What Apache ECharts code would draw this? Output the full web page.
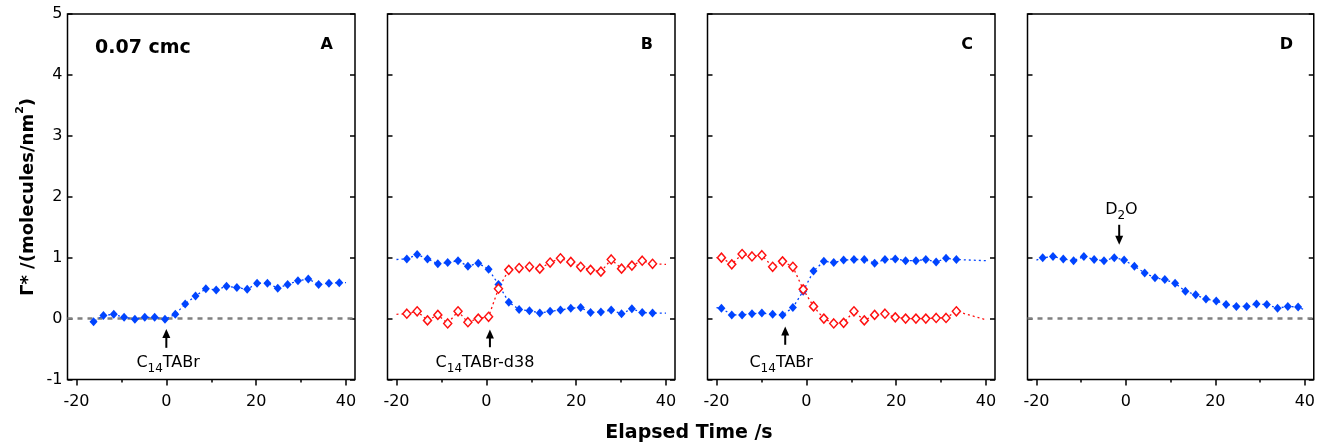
<!DOCTYPE html>
<html><head><meta charset="utf-8">
<script src="https://cdn.jsdelivr.net/npm/echarts@6/dist/echarts.min.js"></script>
<style>html,body{margin:0;padding:0;background:#fff}#c{width:1318px;height:444px}</style>
</head><body><div id="c"></div>
<script>
// ---------- data ----------
const xTickLabels = [-20, 0, 20, 40];
const xMinorTicks = [-10, 10, 30];
const yTicks = [-1, 0, 1, 2, 3, 4, 5];
const panelLetters = ['A', 'B', 'C', 'D'];

const xA = [-16.2,-14.0,-11.7,-9.4,-7.0,-4.8,-2.6,-0.3,2.0,4.2,6.5,8.8,11.1,13.4,15.7,18.0,20.2,22.5,24.8,27.0,29.3,31.6,33.9,36.2,38.5];
const yA = [-0.05,0.05,0.07,0.02,-0.01,0.02,0.02,-0.01,0.07,0.24,0.37,0.49,0.47,0.53,0.51,0.48,0.58,0.58,0.50,0.56,0.62,0.65,0.56,0.58,0.59];
const endsA = [[-17, -0.05], [40, 0.59]];

const xB = [-17.7,-15.4,-13.1,-10.8,-8.6,-6.3,-4.1,-1.8,0.5,2.7,5.0,7.3,9.6,11.9,14.2,16.5,18.8,21.0,23.2,25.5,27.8,30.1,32.4,34.7,37.0];
const yBblue = [0.98,1.05,0.98,0.90,0.92,0.95,0.86,0.91,0.81,0.56,0.27,0.15,0.13,0.09,0.12,0.14,0.17,0.18,0.10,0.11,0.14,0.08,0.16,0.10,0.09];
const yBred = [0.08,0.12,-0.03,0.06,-0.08,0.12,-0.06,0.00,0.03,0.49,0.80,0.83,0.85,0.82,0.92,0.99,0.93,0.85,0.80,0.77,0.97,0.82,0.87,0.95,0.90];
const endsBblue = [[-20, 0.97], [40, 0.09]];
const endsBred = [[-20, 0.07], [40, 0.89]];

const xC = [-18.9,-16.6,-14.3,-12.1,-9.9,-7.5,-5.3,-3.0,-0.7,1.6,3.9,6.1,8.3,10.6,12.9,15.2,17.5,19.8,22.1,24.4,26.6,28.9,31.1,33.4];
const yCred = [1.00,0.89,1.06,1.02,1.04,0.85,0.94,0.85,0.48,0.20,0.00,-0.08,-0.07,0.12,-0.03,0.06,0.08,0.02,0.00,0.00,0.00,0.01,0.01,0.12];
const yCblue = [0.17,0.06,0.06,0.08,0.09,0.07,0.06,0.18,0.45,0.78,0.94,0.92,0.96,0.97,0.97,0.91,0.97,0.98,0.95,0.95,0.97,0.93,0.99,0.97];
const endsCblue = [[-20, 0.18], [40, 0.95]];
const endsCred = [[-20, 1.00], [40, -0.02]];

const xD = [-18.6,-16.3,-14.0,-11.7,-9.4,-7.1,-4.9,-2.6,-0.4,1.9,4.2,6.5,8.7,11.0,13.3,15.6,17.9,20.2,22.4,24.7,27.0,29.2,31.5,33.9,36.2,38.5];
const yD = [1.00,1.02,0.98,0.95,1.02,0.97,0.95,1.00,0.96,0.86,0.75,0.67,0.64,0.58,0.45,0.39,0.32,0.29,0.23,0.20,0.20,0.24,0.23,0.17,0.20,0.19];
const endsD = [[-20, 0.96], [40, 0.14]];

// annotations (data coordinates of each panel)
const annPanel = [0, 1, 2, 3];
const annText = ['C{s|14}TABr', 'C{s|14}TABr-d38', 'C{s|14}TABr', 'D{s|2}O'];
const annArrowX = [0, 0.8, -4.7, -1.5];
const annArrowTipY = [-0.17, -0.18, -0.13, 1.21];
const annArrowTailY = [-0.48, -0.47, -0.43, 1.54];
const annTextX = [0.4, -0.3, -5.6, -1.0];
const annTextY = [-0.72, -0.72, -0.72, 1.78];

// ---------- chart ----------
const BLUE = '#0044ff', RED = '#ff1010', FONT = 'DejaVu Sans';
const lefts = [67.5, 387.5, 707.5, 1027.5];
const GW = 287.5, GT = 14, GH = 365.5;

const panels = [
  { curves: [{ x: xA, y: yA, ends: endsA, c: 'blue' }], zero: true },
  { curves: [{ x: xB, y: yBblue, ends: endsBblue, c: 'blue' }, { x: xB, y: yBred, ends: endsBred, c: 'red' }], zero: false },
  { curves: [{ x: xC, y: yCblue, ends: endsCblue, c: 'blue' }, { x: xC, y: yCred, ends: endsCred, c: 'red' }], zero: false },
  { curves: [{ x: xD, y: yD, ends: endsD, c: 'blue' }], zero: true }
];

const grid = [], xAxis = [], yAxis = [], series = [];
const tickStyle = { color: '#000', width: 1.5 };
panels.forEach((p, i) => {
  grid.push({ left: lefts[i], top: GT, width: GW, height: GH, show: true, borderColor: '#000', borderWidth: 1.5, backgroundColor: 'transparent' });
  xAxis.push({ gridIndex: i, type: 'value', min: -22, max: 42, position: 'bottom',
    axisLine: { show: false, onZero: false }, splitLine: { show: false },
    axisTick: { show: true, customValues: xTickLabels, length: 6, lineStyle: tickStyle },
    axisLabel: { customValues: xTickLabels, margin: 14, fontSize: 16, color: '#000', fontFamily: FONT } });
  xAxis.push({ gridIndex: i, type: 'value', min: -22, max: 42, position: 'bottom',
    axisLine: { show: false, onZero: false }, splitLine: { show: false },
    axisTick: { show: true, customValues: xMinorTicks, length: 3, lineStyle: tickStyle },
    axisLabel: { show: false } });
  yAxis.push({ gridIndex: i, type: 'value', min: -1, max: 5, interval: 1, position: 'left',
    axisLine: { show: false, onZero: false }, splitLine: { show: false },
    axisTick: { show: true, inside: true, length: 5, lineStyle: tickStyle },
    axisLabel: { show: i === 0, margin: 5, fontSize: 16, color: '#000', fontFamily: FONT } });
  yAxis.push({ gridIndex: i, type: 'value', min: -1, max: 5, interval: 1, position: 'right',
    axisLine: { show: false, onZero: false }, splitLine: { show: false },
    axisTick: { show: true, inside: true, length: 5, lineStyle: tickStyle },
    axisLabel: { show: false } });

  p.curves.forEach((cv, k) => {
    const pts = cv.x.map((v, j) => [v, cv.y[j]]);
    const lineData = [cv.ends[0]].concat(pts, [cv.ends[1]]);
    const col = cv.c === 'blue' ? BLUE : RED;
    series.push({ type: 'line', xAxisIndex: 2 * i, yAxisIndex: 2 * i, data: lineData, symbol: 'none',
      silent: true, z: 2, lineStyle: { color: col, width: 1.3, type: [2, 3], opacity: 1 } });
    const sc = { type: 'scatter', xAxisIndex: 2 * i, yAxisIndex: 2 * i, data: pts, symbol: 'diamond',
      symbolSize: [8, 9], silent: true, z: 3,
      itemStyle: cv.c === 'blue' ? { color: BLUE, opacity: 1 } : { color: '#fff', borderColor: RED, borderWidth: 1.5, opacity: 1 } };
    if (p.zero && k === 0) {
      sc.markLine = { silent: true, symbol: 'none', label: { show: false }, z: 1,
        lineStyle: { color: '#808080', width: 2.5, type: [5, 5], opacity: 1 }, data: [{ yAxis: 0 }] };
    }
    series.push(sc);
  });
});

const chart = echarts.init(document.getElementById('c'));
chart.setOption({ animation: false, grid, xAxis, yAxis, series });

const graphic = [];
const rich = { n: { fontSize: 16, fontFamily: FONT, lineHeight: 20, fill: '#000' },
               s: { fontSize: 12, fontFamily: FONT, lineHeight: 20, padding: [12, 0, 0, 0], fill: '#000' } };
panelLetters.forEach((L, i) => {
  graphic.push({ type: 'text', x: lefts[i] + GW - 22, y: 45,
    style: { text: L, fill: '#000', font: 'bold 16px "DejaVu Sans"', textAlign: 'right', textVerticalAlign: 'middle' } });
});
graphic.push({ type: 'text', x: 95, y: 48,
  style: { text: '0.07 cmc', fill: '#000', font: 'bold 19px "DejaVu Sans"', textAlign: 'left', textVerticalAlign: 'middle' } });
graphic.push({ type: 'text', x: 689, y: 433,
  style: { text: 'Elapsed Time /s', fill: '#000', font: 'bold 19px "DejaVu Sans"', textAlign: 'center', textVerticalAlign: 'middle' } });
graphic.push({ type: 'text', x: 28, y: 197, rotation: Math.PI / 2,
  style: { text: '{b|Γ* /(molecules/nm}{p|2}{b|)}', textAlign: 'center', textVerticalAlign: 'middle',
    rich: { b: { fontSize: 18, fontWeight: 'bold', fontFamily: FONT, lineHeight: 22, fill: '#000' },
            p: { fontSize: 11, fontWeight: 'bold', fontFamily: FONT, lineHeight: 22, padding: [0, 0, 16, 0], fill: '#000' } } } });

annPanel.forEach((pi, k) => {
  const fin = { xAxisIndex: 2 * pi, yAxisIndex: 2 * pi };
  const tip = chart.convertToPixel(fin, [annArrowX[k], annArrowTipY[k]]);
  const tail = chart.convertToPixel(fin, [annArrowX[k], annArrowTailY[k]]);
  const dir = tail[1] > tip[1] ? 1 : -1; // 1: arrow points up
  graphic.push({ type: 'line', shape: { x1: tip[0], y1: tip[1] + dir * 6, x2: tail[0], y2: tail[1] },
    style: { stroke: '#000', lineWidth: 2 } });
  graphic.push({ type: 'polygon', shape: { points: [[tip[0], tip[1]], [tip[0] - 4, tip[1] + dir * 9], [tip[0] + 4, tip[1] + dir * 9]] },
    style: { fill: '#000' } });
  const tp = chart.convertToPixel(fin, [annTextX[k], annTextY[k]]);
  const txt = annText[k].replace(/^([^{]*)/, '{n|$1}').replace(/\}([^{}]+)$/, '}{n|$1}');
  graphic.push({ type: 'text', x: tp[0], y: tp[1],
    style: { text: txt, rich, textAlign: 'center', textVerticalAlign: 'middle' } });
});
chart.setOption({ graphic });
</script>
</body></html>
